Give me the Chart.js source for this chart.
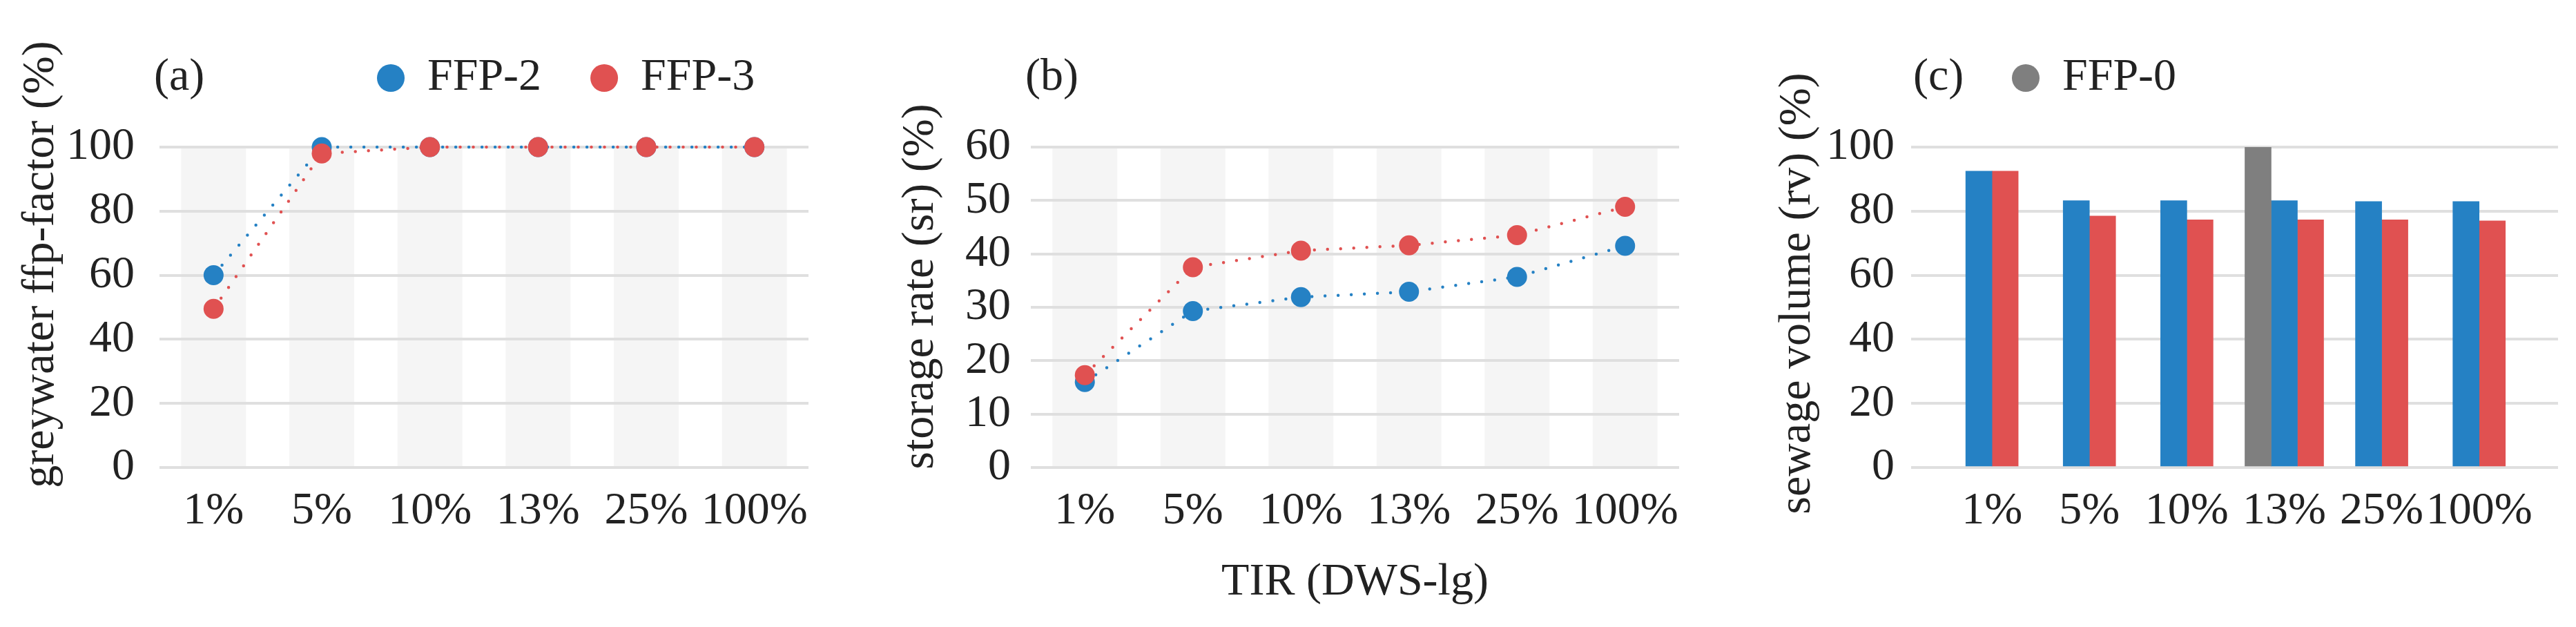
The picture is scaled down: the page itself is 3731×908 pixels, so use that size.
<!DOCTYPE html>
<html>
<head>
<meta charset="utf-8">
<script src="https://cdn.jsdelivr.net/npm/chart.js@4"></script>
<style>
  html, body { margin: 0; padding: 0; background: #fff; }
  body { width: 3731px; height: 908px; position: relative; overflow: hidden; }
  .panel { position: absolute; top: 0; }
</style>
</head>
<body>
<div class="panel" style="left:0"><canvas id="chart-a" width="1250" height="908"></canvas></div>
<div class="panel" style="left:1250px"><canvas id="chart-b" width="1250" height="908"></canvas></div>
<div class="panel" style="left:2500px"><canvas id="chart-c" width="1231" height="908"></canvas></div>
<script>
// TIR levels on the x axis
const categories = ['1%', '5%', '10%', '13%', '25%', '100%'];

// (a) greywater ffp-factor (%)
const greywaterFFP2 = [60, 100, 100, 100, 100, 100];
const greywaterFFP3 = [49.5, 98, 100, 100, 100, 100];

// (b) storage rate (sr) (%)
const storageFFP2 = [16, 29.3, 31.9, 32.9, 35.7, 41.5];
const storageFFP3 = [17.3, 37.5, 40.6, 41.6, 43.5, 48.8];

// (c) sewage volume (rv) (%) - FFP-0 only exists at 13%
const sewageFFP0 = [null, null, null, 100, null, null];
const sewageFFP2 = [92.5, 83.3, 83.3, 83.3, 83, 83];
const sewageFFP3 = [92.5, 78.5, 77.3, 77.3, 77.3, 77];

const BLUE = '#2581c4';
const RED = '#e05151';
const GREY = '#7f7f7f';

Chart.defaults.font.family = "'Liberation Serif', 'Times New Roman', serif";
Chart.defaults.font.size = 66;
Chart.defaults.color = '#222';

// light grey band behind every category (panels a and b)
const bandsPlugin = {
  id: 'bands',
  beforeDraw(chart, args, opts) {
    if (!opts.show) return;
    const { ctx, chartArea, scales: { x } } = chart;
    const step = x.getPixelForValue(1) - x.getPixelForValue(0);
    ctx.save();
    ctx.fillStyle = opts.color;
    categories.forEach((c, i) => {
      const cx = x.getPixelForValue(i);
      ctx.fillRect(cx - step * 0.3, chartArea.top, step * 0.6, chartArea.bottom - chartArea.top);
    });
    ctx.restore();
  }
};

// move panel tag, legend and y title to where the figure has them
const placePlugin = {
  id: 'place',
  afterLayout(chart, args, opts) {
    const t = chart.titleBlock;
    if (t && opts.titleX != null) {
      t.left = opts.titleX; t.right = t.left + 400;
      t.top = opts.titleY; t.bottom = t.top + t.height;
    }
    const lg = chart.legend;
    if (lg && opts.legendX != null) {
      lg.left = opts.legendX; lg.right = lg.left + 2000;
      lg.top = opts.legendY; lg.bottom = lg.top + lg.height;
    }
    // y title is centred on the scale box: slide the box only while the axis draws
    const y = chart.scales.y;
    if (opts.yTitleCenter != null) {
      const h = y.bottom - y.top;
      chart.$yBox = { top: y.top, bottom: y.bottom };
      y.top = opts.yTitleCenter - h / 2;
      y.bottom = y.top + h;
    }
  },
  beforeDatasetsDraw(chart) {
    // put the box back so the dataset clip area is the real chart area
    if (chart.$yBox) {
      chart.scales.y.top = chart.$yBox.top;
      chart.scales.y.bottom = chart.$yBox.bottom;
    }
  }
};

function lineSet(label, data, color, order) {
  return {
    label, data, order,
    clip: false,
    borderColor: color,
    backgroundColor: color,
    borderWidth: 4.5,
    borderDash: [0, 19],
    borderCapStyle: 'round',
    pointRadius: 14.5,
    pointBorderWidth: 0,
    pointBackgroundColor: color,
    fill: false,
    tension: 0
  };
}

function barSet(label, values, color) {
  return {
    label,
    data: values.map((v, i) => ({ x: i, y: v })),
    backgroundColor: color,
    borderWidth: 0,
    barThickness: 38,
    skipNull: true
  };
}

function panelTitle(text) {
  return { display: true, text, align: 'start', padding: 0, font: { size: 66, weight: 'normal', lineHeight: 1 } };
}

function legendOpts(filter) {
  return {
    display: true,
    position: 'top',
    align: 'start',
    labels: {
      usePointStyle: true,
      pointStyle: 'circle',
      boxHeight: 28.3,
      padding: 71,
      font: { size: 66 },
      sort: (a, b) => a.datasetIndex - b.datasetIndex,
      filter: filter || (() => true),
      generateLabels: chart => Chart.defaults.plugins.legend.labels.generateLabels(chart)
        .map(it => ({ ...it, lineWidth: 0, lineDash: [] }))
    }
  };
}

function xScale(title) {
  return {
    offset: true,
    grid: { display: false, drawTicks: false },
    border: { display: false },
    ticks: { padding: 24, maxRotation: 0, autoSkip: false },
    title: title ? { display: true, text: title, padding: { top: 0, bottom: 2 } } : { display: false },
    afterFit: s => { s.height = 208; }
  };
}

function yScale(title, max, step, width, titlePad, tickPad) {
  return {
    min: 0, max,
    ticks: { stepSize: step, padding: tickPad, autoSkip: false },
    grid: { color: '#dfdfdf', lineWidth: 4, drawTicks: false },
    border: { display: false },
    title: { display: true, text: title, padding: { top: titlePad, bottom: 0 } },
    afterFit: s => { s.width = width; }
  };
}

const common = { responsive: false, animation: false, devicePixelRatio: 1, events: [] };

// (a)
new Chart(document.getElementById('chart-a'), {
  type: 'line',
  data: {
    labels: categories,
    datasets: [
      lineSet('FFP-2', greywaterFFP2, BLUE, 2),
      lineSet('FFP-3', greywaterFFP3, RED, 1)
    ]
  },
  options: {
    ...common,
    layout: { padding: { top: 0, right: 79, bottom: 23, left: 0 } },
    plugins: {
      title: panelTitle('(a)'),
      legend: legendOpts(),
      tooltip: { enabled: false },
      bands: { show: true, color: '#f5f5f5' },
      place: { titleX: 223, titleY: 80, legendX: 475, legendY: 9, yTitleCenter: 383 }
    },
    scales: {
      x: xScale(null),
      y: yScale('greywater ffp-factor (%)', 100, 20, 231, 20, 36)
    }
  },
  plugins: [bandsPlugin, placePlugin]
});

// (b)
new Chart(document.getElementById('chart-b'), {
  type: 'line',
  data: {
    labels: categories,
    datasets: [
      lineSet('FFP-2', storageFFP2, BLUE, 2),
      lineSet('FFP-3', storageFFP3, RED, 1)
    ]
  },
  options: {
    ...common,
    layout: { padding: { top: 147, right: 68, bottom: 23, left: 0 } },
    plugins: {
      title: panelTitle('(b)'),
      legend: { display: false },
      tooltip: { enabled: false },
      bands: { show: true, color: '#f5f5f5' },
      place: { titleX: 235, titleY: 80, yTitleCenter: 415 }
    },
    scales: {
      x: xScale('TIR (DWS-lg)'),
      y: yScale('storage rate (sr) (%)', 60, 10, 243, 44, 29)
    }
  },
  plugins: [bandsPlugin, placePlugin]
});

// (c)
const xC = xScale(null);
xC.type = 'linear';
xC.offset = false;
xC.min = -0.83;
xC.max = 5.81;
xC.afterBuildTicks = s => { s.ticks = categories.map((c, i) => ({ value: i })); };
xC.ticks.callback = v => categories[v];

new Chart(document.getElementById('chart-c'), {
  type: 'bar',
  data: {
    labels: categories,
    datasets: [
      barSet('FFP-0', sewageFFP0, GREY),
      barSet('FFP-2', sewageFFP2, BLUE),
      barSet('FFP-3', sewageFFP3, RED)
    ]
  },
  options: {
    ...common,
    skipNull: true,
    layout: { padding: { top: 0, right: 26, bottom: 23, left: 0 } },
    plugins: {
      title: panelTitle('(c)'),
      legend: legendOpts(item => item.datasetIndex === 0),
      tooltip: { enabled: false },
      bands: { show: false },
      place: { titleX: 271, titleY: 80, legendX: 343, legendY: 9, yTitleCenter: 425 }
    },
    scales: {
      x: xC,
      y: yScale('sewage volume (rv) (%)', 100, 20, 268, 64, 24)
    }
  },
  plugins: [bandsPlugin, placePlugin]
});
</script>
</body>
</html>
